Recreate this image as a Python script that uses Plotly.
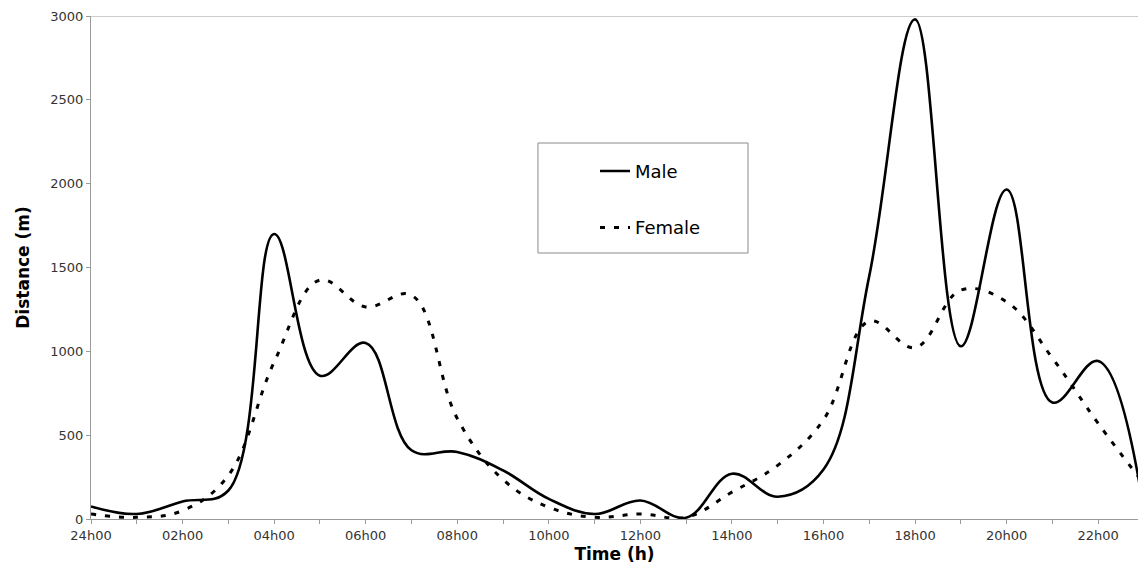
import plotly.graph_objects as go

# ---- data ----
hours = list(range(24))
male = [75, 30, 105, 170, 1700, 855, 1050, 410, 400, 290, 120, 30,
        110, 8, 270, 133, 295, 1450, 2980, 1030, 1965, 695, 942, 50]
female = [30, 10, 50, 260, 935, 1425, 1265, 1335, 600, 235, 70, 10,
          30, 10, 160, 320, 592, 1180, 1022, 1365, 1295, 960, 570, 210]
tick_hours = list(range(0, 24, 2))
tick_labels = ["24h00", "02h00", "04h00", "06h00", "08h00", "10h00",
               "12h00", "14h00", "16h00", "18h00", "20h00", "22h00"]
y_ticks = [0, 500, 1000, 1500, 2000, 2500, 3000]

AXIS = "#9a9a9a"
TXT = "#333333"
FONT = "DejaVu Sans"

fig = go.Figure()
fig.add_trace(go.Scatter(
    x=hours, y=male, name="Male", mode="lines", legendgroup="m",
    line=dict(color="black", width=2.6, shape="spline", smoothing=1.1),
))
fig.add_trace(go.Scatter(
    x=hours, y=female, name="Female", mode="lines", legendgroup="f",
    line=dict(color="black", width=3, shape="spline", smoothing=1.1,
              dash="5px,9px"),
))

fig.update_layout(
    width=1138, height=575,
    margin=dict(l=91, r=0, t=16, b=56),
    paper_bgcolor="white", plot_bgcolor="white",
    showlegend=True,
    legend=dict(
        x=0.4814, y=0.728, xanchor="left", yanchor="top",
        font=dict(family=FONT, size=18, color="black"),
        bgcolor="rgba(0,0,0,0)", borderwidth=0,
        traceorder="grouped", tracegroupgap=30,
    ),
    xaxis=dict(
        range=[0, 22.87], tickmode="array", tickvals=tick_hours,
        ticktext=tick_labels, showgrid=False, zeroline=False,
        showline=True, linecolor=AXIS, linewidth=1,
        ticks="outside", ticklen=4, tickcolor=AXIS,
        minor=dict(dtick=1, tick0=0, ticks="outside", ticklen=4, tickcolor=AXIS),
        tickfont=dict(family=FONT, size=13, color=TXT),
        title=dict(text="<b>Time (h)</b>", standoff=6,
                   font=dict(family=FONT, size=17, color="black")),
    ),
    yaxis=dict(
        range=[0, 3000], tickmode="array", tickvals=y_ticks,
        showgrid=False, zeroline=False,
        showline=True, linecolor=AXIS, linewidth=1,
        ticks="outside", ticklen=4, tickcolor=AXIS,
        tickfont=dict(family=FONT, size=13, color=TXT),
        title=dict(text="<b>Distance (m)</b>", standoff=16,
                   font=dict(family=FONT, size=17, color="black")),
    ),
    shapes=[
        # top frame line of the plot area
        dict(type="line", xref="paper", yref="y", x0=0, x1=1, y0=3000, y1=3000,
             line=dict(color=AXIS, width=1)),
        # legend frame
        dict(type="rect", xref="paper", yref="paper",
             x0=0.4269, x1=0.6275, y0=0.5288, y1=0.7475,
             line=dict(color="#8a8a8a", width=1), fillcolor="rgba(0,0,0,0)"),
    ],
)

fig.write_html("out.html")
